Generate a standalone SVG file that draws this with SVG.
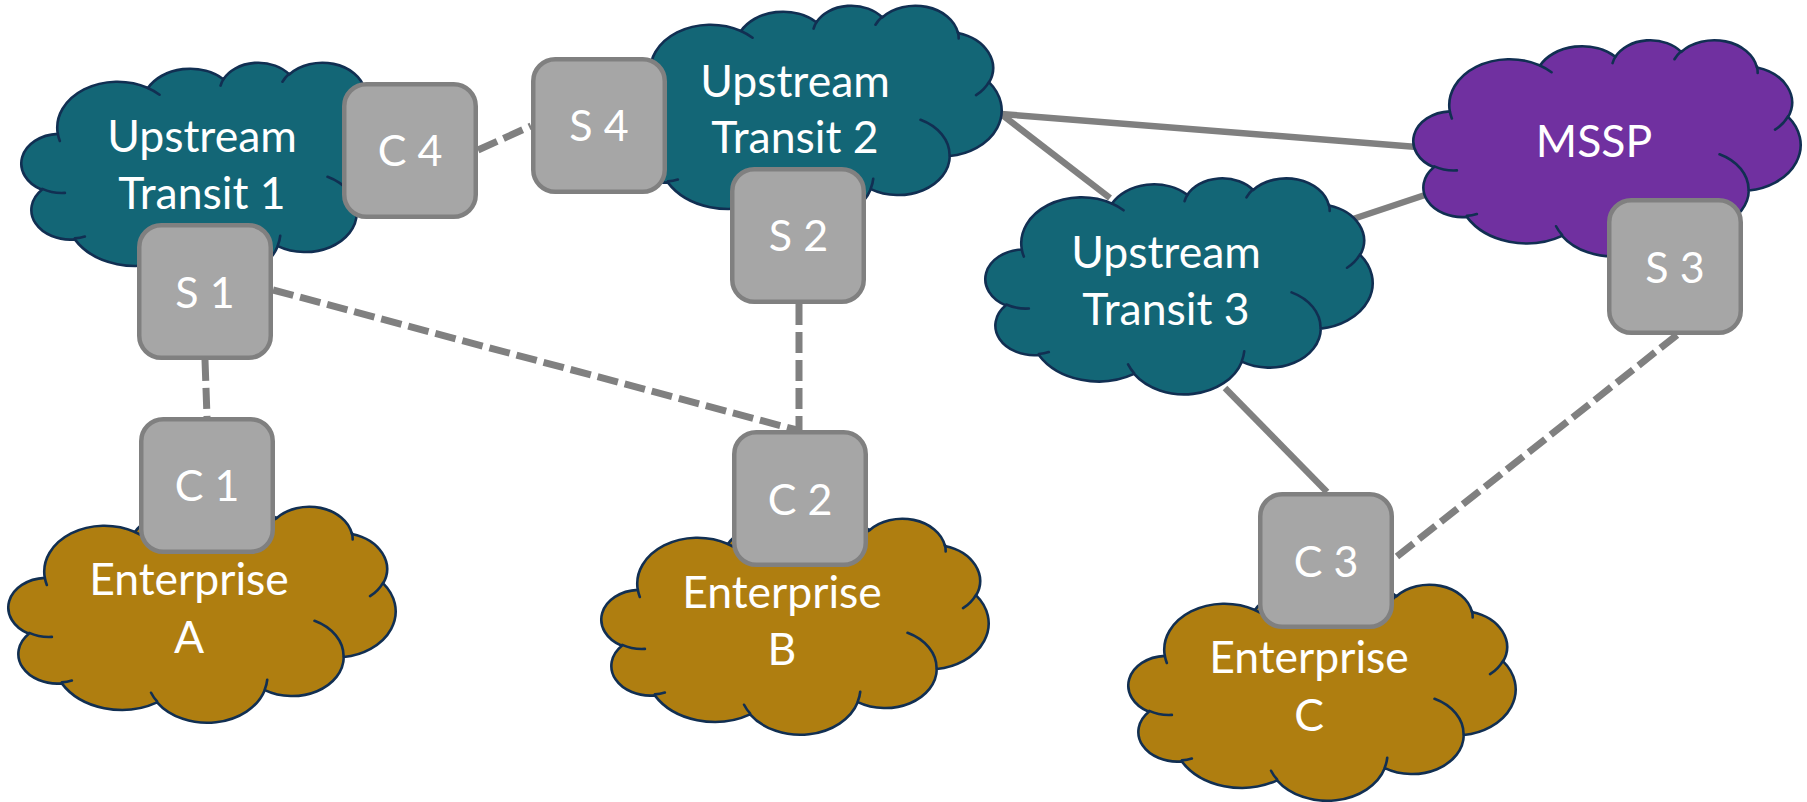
<svg xmlns="http://www.w3.org/2000/svg" xmlns:xlink="http://www.w3.org/1999/xlink" width="1807" height="802" viewBox="0 0 1807 802">
  <style>
    .outline { stroke: #112F52; stroke-width: 2.6; stroke-linejoin: round; }
    .crease { fill: none; stroke: #112F52; stroke-width: 2.6; stroke-linecap: round; }
    .teal { fill: #136676; }
    .purple { fill: #7030A0; }
    .gold { fill: #AF7E10; }
    .box rect { fill: #A6A6A6; stroke: #808080; stroke-width: 4.5; }
    .label { font-family: Lato, "Open Sans", "Liberation Sans", sans-serif; fill: #FFFFFF; text-anchor: middle; }
    .cloud-label { font-size: 44.5px; }
    .box-label { font-size: 43px; }
    #connectors line { stroke: #808080; stroke-width: 6.5; fill: none; }
    #connectors .dashed { stroke-width: 7; stroke-dasharray: 21 7; }
  </style>
  <defs>
    <!-- cloud outline in a 43200 x 43200 unit square -->
    <g id="cloud">
      <path class="outline" vector-effect="non-scaling-stroke" d="M3900 14370 A6753 9190 0 0 1 14005 5202 A5333 7267 0 0 1 22456 3434 A4365 5945 0 0 1 29834 2483 A4857 6595 0 0 1 38319 5580 A5333 7273 0 0 1 41819 15463 A6775 9220 0 0 1 37404 30205 A5785 7867 0 0 1 28555 36815 A6752 9215 0 0 1 16481 39268 A7720 10543 0 0 1 5804 35474 A4360 5918 0 0 1 2113 25553 A4345 5945 0 0 1 3900 14370 Z"/>
      <path class="crease" vector-effect="non-scaling-stroke" d="M4693 26177 A4345 5945 0 0 1 2160 25380 M6928 34899 A4360 5918 0 0 1 5820 35281 M16478 39090 A6752 9215 0 0 1 15809 37348 M28827 34751 A6752 9215 0 0 1 28560 36660 M34129 22954 A5785 7867 0 0 1 37381 30090 M41798 15354 A5333 7273 0 0 1 40350 18030 M38324 5426 A4857 6595 0 0 1 38401 6690 M29078 3952 A4857 6595 0 0 1 29820 2339 M22141 4720 A4365 5945 0 0 1 22500 3330 M14000 5192 A6753 9190 0 0 1 15301 6542 M4127 15789 A6753 9190 0 0 1 3900 14370"/>
    </g>
  </defs>

  <rect width="1807" height="802" fill="#FFFFFF"/>

  <g id="connectors">
    <line x1="1001" y1="114" x2="1417" y2="147"/>
    <line x1="1001" y1="114" x2="1110" y2="198"/>
    <line x1="1350" y1="220" x2="1431" y2="193"/>
    <line x1="1225" y1="388" x2="1327" y2="492"/>
    <line class="dashed" x1="478" y1="150" x2="531" y2="126"/>
    <line class="dashed" x1="205" y1="360" x2="207" y2="417"/>
    <line class="dashed" x1="273" y1="290" x2="797" y2="430"/>
    <line class="dashed" x1="799" y1="304" x2="799" y2="430"/>
    <line class="dashed" x1="1677" y1="335" x2="1395" y2="558"/>
  </g>

  <g id="transit1">
    <use xlink:href="#cloud" class="teal" transform="translate(23 62) scale(0.0089236 0.005)"/>
    <text class="label cloud-label" x="202" y="152">Upstream</text>
    <text class="label cloud-label" x="202" y="209">Transit 1</text>
  </g>
  <g id="transit2">
    <use xlink:href="#cloud" class="teal" transform="translate(616 5) scale(0.0089236 0.005)"/>
    <text class="label cloud-label" x="795" y="96.5">Upstream</text>
    <text class="label cloud-label" x="795" y="153">Transit 2</text>
  </g>
  <g id="transit3">
    <use xlink:href="#cloud" class="teal" transform="translate(987 177.6) scale(0.0089236 0.005)"/>
    <text class="label cloud-label" x="1166" y="268">Upstream</text>
    <text class="label cloud-label" x="1166" y="325">Transit 3</text>
  </g>
  <g id="mssp">
    <use xlink:href="#cloud" class="purple" transform="translate(1415 39.5) scale(0.0089236 0.005)"/>
    <text class="label cloud-label" x="1594" y="157">MSSP</text>
  </g>
  <g id="enterpriseA">
    <use xlink:href="#cloud" class="gold" transform="translate(10 506) scale(0.0089236 0.005)"/>
    <text class="label cloud-label" x="189" y="595">Enterprise</text>
    <text class="label cloud-label" x="189" y="653">A</text>
  </g>
  <g id="enterpriseB">
    <use xlink:href="#cloud" class="gold" transform="translate(603 518) scale(0.0089236 0.005)"/>
    <text class="label cloud-label" x="782" y="608">Enterprise</text>
    <text class="label cloud-label" x="782" y="665">B</text>
  </g>
  <g id="enterpriseC">
    <use xlink:href="#cloud" class="gold" transform="translate(1130 584) scale(0.0089236 0.005)"/>
    <text class="label cloud-label" x="1309" y="673">Enterprise</text>
    <text class="label cloud-label" x="1309" y="731">C</text>
  </g>

  <g id="c4" class="box">
    <rect x="344.25" y="84.25" width="131.5" height="132.5" rx="22"/>
    <text class="label box-label" x="410" y="166">C 4</text>
  </g>
  <g id="s4" class="box">
    <rect x="533.25" y="59.25" width="131.5" height="132.5" rx="22"/>
    <text class="label box-label" x="599" y="141">S 4</text>
  </g>
  <g id="s1" class="box">
    <rect x="139.25" y="225.25" width="131.5" height="132.5" rx="22"/>
    <text class="label box-label" x="205" y="307.5">S 1</text>
  </g>
  <g id="s2" class="box">
    <rect x="732.25" y="169.25" width="131.5" height="132.5" rx="22"/>
    <text class="label box-label" x="798.5" y="251">S 2</text>
  </g>
  <g id="s3" class="box">
    <rect x="1609.25" y="200.25" width="131.5" height="132.5" rx="22"/>
    <text class="label box-label" x="1675" y="282.5">S 3</text>
  </g>
  <g id="c1" class="box">
    <rect x="141.25" y="419.25" width="131.5" height="132.5" rx="22"/>
    <text class="label box-label" x="207" y="501">C 1</text>
  </g>
  <g id="c2" class="box">
    <rect x="734.25" y="432.25" width="131.5" height="132.5" rx="22"/>
    <text class="label box-label" x="800" y="514.5">C 2</text>
  </g>
  <g id="c3" class="box">
    <rect x="1260.25" y="494.25" width="131.5" height="132.5" rx="22"/>
    <text class="label box-label" x="1326" y="576.5">C 3</text>
  </g>
</svg>
